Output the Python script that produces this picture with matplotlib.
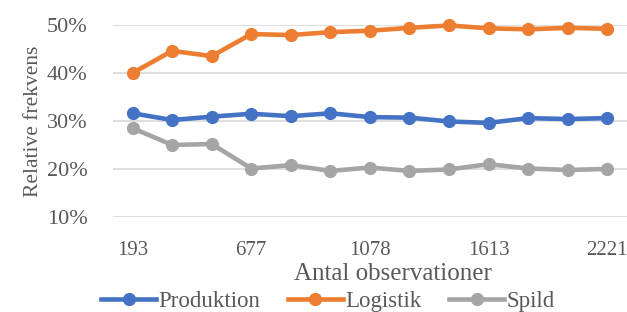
import matplotlib
matplotlib.use("Agg")
import matplotlib.pyplot as plt
import numpy as np

# x categories (only every third one is labelled in the original)
obs_labels = ["193", "", "", "677", "", "", "1078", "", "", "1613", "", "", "2221"]

produktion = [31.6, 30.2, 30.9, 31.5, 31.0, 31.6, 30.8, 30.7, 29.9, 29.6, 30.6, 30.4, 30.6]
logistik = [40.0, 44.6, 43.5, 48.1, 47.9, 48.5, 48.8, 49.4, 49.9, 49.3, 49.1, 49.4, 49.2]
spild = [28.5, 25.0, 25.2, 20.1, 20.8, 19.6, 20.3, 19.6, 19.9, 21.0, 20.1, 19.8, 20.0]

series = [("Produktion", produktion, "#4472C4"),
          ("Logistik", logistik, "#ED7D31"),
          ("Spild", spild, "#A5A5A5")]

txt = "#595959"
plt.rcParams["font.family"] = ["Liberation Serif", "DejaVu Serif"]

fig = plt.figure(figsize=(6.27, 3.12), dpi=100)
ax = fig.add_axes([0.180, 0.3045, 0.820, 0.6155])

x = np.arange(len(obs_labels))
for name, vals, col in series:
    ax.plot(x, vals, color=col, lw=3.3, marker="o", markersize=8.5,
            label=name, clip_on=False, zorder=3)

ax.set_xlim(-0.5, len(obs_labels) - 0.5)
ax.set_ylim(10, 50)
ax.set_yticks([10, 20, 30, 40, 50])
ax.set_yticklabels([f"{v}%" for v in [10, 20, 30, 40, 50]])
ax.set_xticks(x)
ax.set_xticklabels(obs_labels)
ax.tick_params(length=0, colors=txt)
ax.tick_params(axis="x", labelsize=15, pad=17)
ax.tick_params(axis="y", labelsize=16, pad=18)
ax.grid(axis="y", color="#D9D9D9", lw=1.2)
ax.set_axisbelow(True)
for s in ax.spines.values():
    s.set_visible(False)

ax.set_ylabel("Relative frekvens", fontsize=15.5, color=txt, labelpad=3)
fig.text(0.627, 0.122, "Antal observationer", fontsize=18, color=txt,
         ha="center", va="center")

leg = fig.legend(loc="center", bbox_to_anchor=(0.523, 0.035), ncol=3,
                 frameon=False, fontsize=16.5, handlelength=2.4,
                 columnspacing=1.2, handletextpad=0.1, borderaxespad=0)
for t in leg.get_texts():
    t.set_color(txt)

fig.savefig("out.png", dpi=100)
